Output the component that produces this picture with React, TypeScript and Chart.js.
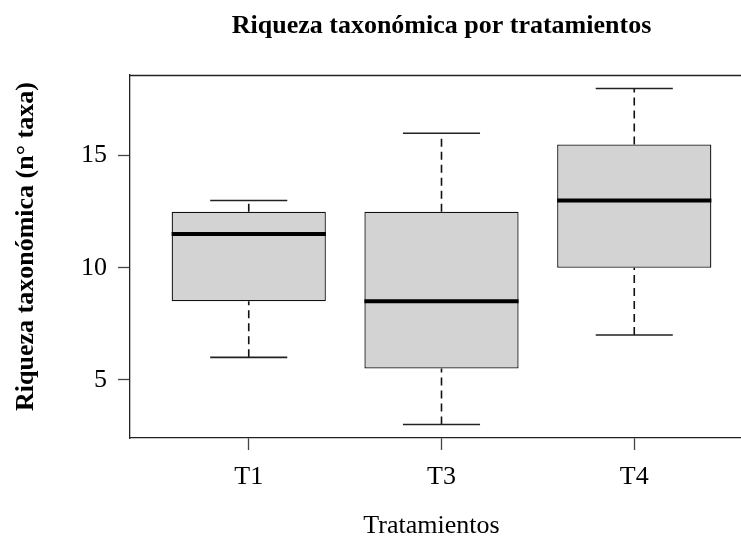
import React, { useEffect, useRef } from "react";
import { Chart, registerables } from "chart.js";

Chart.register(...registerables);

const categories = ["T1", "T3", "T4"];
const mins = [6, 3, 7];
const q1s = [8.5, 5.5, 10];
const medians = [11.5, 8.5, 13];
const q3s = [12.5, 12.5, 15.5];
const maxs = [13, 16, 18];
const yTicks = [5, 10, 15];

const mainTitle = "Riqueza taxonómica por tratamientos";
const xTitle = "Tratamientos";
const yTitle = "Riqueza taxonómica (n° taxa)";

const FONT = "'Liberation Serif', 'Times New Roman', serif";

export default function App() {
  const ref = useRef<HTMLCanvasElement | null>(null);

  useEffect(() => {
    if (!ref.current) return;
    const xs = categories.map((_, i) => i + 1);

    const boxes = xs.map((x, i) => ({ x, y: [q1s[i], q3s[i]] }));
    const whiskers: any[] = [];
    const caps: any[] = [];
    const meds: any[] = [];
    xs.forEach((x, i) => {
      whiskers.push({ x, y: q3s[i] }, { x, y: maxs[i] }, { x, y: null });
      whiskers.push({ x, y: mins[i] }, { x, y: q1s[i] }, { x, y: null });
      caps.push({ x: x - 0.2, y: maxs[i] }, { x: x + 0.2, y: maxs[i] }, { x, y: null });
      caps.push({ x: x - 0.2, y: mins[i] }, { x: x + 0.2, y: mins[i] }, { x, y: null });
      meds.push({ x: x - 0.4, y: medians[i] }, { x: x + 0.4, y: medians[i] }, { x, y: null });
    });

    const textPlugin = {
      id: "textPlugin",
      afterDraw(chart: any) {
        const { ctx, chartArea } = chart;
        ctx.save();
        ctx.strokeStyle = "#222";
        ctx.lineWidth = 1.3;
        ctx.beginPath();
        ctx.moveTo(chartArea.left, Math.round(chartArea.top) + 0.5);
        ctx.lineTo(chartArea.right, Math.round(chartArea.top) + 0.5);
        ctx.stroke();
        ctx.fillStyle = "#000";
        ctx.textAlign = "center";
        ctx.textBaseline = "alphabetic";
        ctx.font = `bold 26px ${FONT}`;
        const cx = (chartArea.left + chartArea.right) / 2;
        ctx.fillText(mainTitle, cx, 33);
        ctx.font = `26px ${FONT}`;
        ctx.fillText(xTitle, cx - 10, 533);
        ctx.translate(33, (chartArea.top + chartArea.bottom) / 2 - 10);
        ctx.rotate(-Math.PI / 2);
        ctx.font = `bold 26px ${FONT}`;
        ctx.fillText(yTitle, 0, 0);
        ctx.restore();
      },
    };

    const chart = new Chart(ref.current, {
      type: "bar",
      data: {
        datasets: [
          {
            type: "bar",
            data: boxes as any,
            backgroundColor: "#d3d3d3",
            borderColor: "#111",
            borderWidth: 1.3,
            borderSkipped: false,
            categoryPercentage: 1,
            barPercentage: 0.8,
            order: 3,
          } as any,
          {
            type: "line",
            data: whiskers,
            borderColor: "#111",
            borderWidth: 1.6,
            borderDash: [8, 5],
            pointRadius: 0,
            spanGaps: false,
            order: 2,
          },
          {
            type: "line",
            data: caps,
            borderColor: "#222",
            borderWidth: 1.6,
            pointRadius: 0,
            spanGaps: false,
            order: 1,
          },
          {
            type: "line",
            data: meds,
            borderColor: "#000",
            borderWidth: 4,
            pointRadius: 0,
            spanGaps: false,
            borderCapStyle: "butt",
            order: 0,
          },
        ],
      },
      options: {
        animation: false,
        responsive: false,
        devicePixelRatio: 1,
        layout: { padding: { left: 0, right: 7, top: 75, bottom: 0 } },
        plugins: { legend: { display: false }, tooltip: { enabled: false }, title: { display: false } },
        scales: {
          x: {
            type: "linear",
            min: 0.384,
            max: 3.616,
            offset: false,
            afterBuildTicks: (scale: any) => {
              scale.ticks = xs.map((v) => ({ value: v }));
            },
            afterFit: (scale: any) => {
              scale.height = 98;
            },
            ticks: {
              callback: (v: any) => categories[Number(v) - 1] ?? "",
              font: { family: FONT, size: 26 },
              color: "#000",
              padding: 12,
              maxRotation: 0,
              autoSkip: false,
            },
            grid: { offset: false, drawOnChartArea: false, drawTicks: true, tickLength: 12, tickColor: "#444", tickWidth: 1.3 },
            border: { display: true, color: "#222", width: 1.3 },
          },
          y: {
            type: "linear",
            min: 2.4,
            max: 18.6,
            afterBuildTicks: (scale: any) => {
              scale.ticks = yTicks.map((v) => ({ value: v }));
            },
            afterFit: (scale: any) => {
              scale.width = 130;
            },
            ticks: {
              font: { family: FONT, size: 26 },
              color: "#000",
              padding: 11,
            },
            grid: { offset: false, drawOnChartArea: false, drawTicks: true, tickLength: 12, tickColor: "#444", tickWidth: 1.3 },
            border: { display: true, color: "#222", width: 1.3 },
          },
        },
      },
      plugins: [textPlugin],
    } as any);

    return () => chart.destroy();
  }, []);

  return (
    <div style={{ position: "fixed", left: 0, top: 0, width: 741, height: 536, overflow: "hidden", background: "#fff" }}>
      <canvas ref={ref} width={760} height={536} style={{ display: "block" }} />
    </div>
  );
}
